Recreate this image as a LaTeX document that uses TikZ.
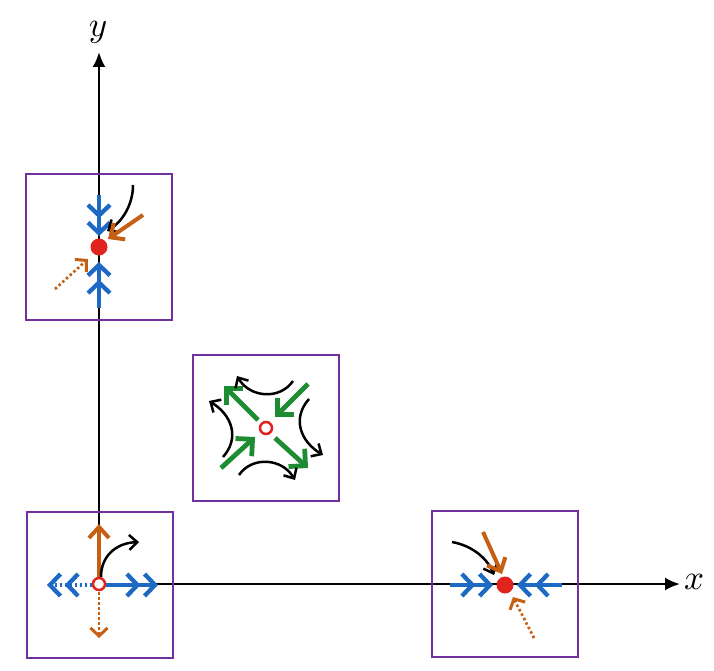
\documentclass[tikz,border=0pt]{standalone}
\usetikzlibrary{arrows.meta}
\definecolor{boxpurple}{RGB}{112,48,160}
\definecolor{flowblue}{RGB}{30,105,195}
\definecolor{floworange}{RGB}{197,95,20}
\definecolor{flowgreen}{RGB}{30,140,50}
\definecolor{ptred}{RGB}{225,35,30}
\begin{document}
\begin{tikzpicture}[x=1pt,y=-1pt,
  axisline/.style={line width=2.3pt,-{Latex[length=15pt,width=13pt]}},
  framebox/.style={draw=boxpurple,line width=2.8pt,minimum size=146pt,inner sep=0pt},
  bluedbl/.style={flowblue,line width=4.3pt,-{Straight Barb[length=10.5pt,width=22pt,sep=2pt]Straight Barb[length=10.5pt,width=22pt]}},
  bluedbldot/.style={bluedbl,dash pattern=on 2.5pt off 2.5pt},
  orangearr/.style={floworange,line width=4pt,-{Straight Barb[length=11pt,width=20pt]}},
  orangedot/.style={floworange,line width=2.7pt,dash pattern=on 2.5pt off 2.5pt,-{Straight Barb[length=8pt,width=17pt,line width=3pt]}},
  greenarr/.style={flowgreen,line width=4.8pt,-{Straight Barb[length=12pt,width=24pt]}},
  blackarc/.style={black,line width=2.5pt,-{Straight Barb[length=8pt,width=15pt]}},
  fixedpt/.style={circle,fill=ptred,minimum size=17pt,inner sep=0pt},
  openpt/.style={circle,draw=ptred,fill=white,line width=2.5pt,minimum size=12pt,inner sep=0pt},
  axlabel/.style={inner sep=0pt}
]
\useasboundingbox (0,0) rectangle (714,671);
\fill[white] (0,0) rectangle (714,671);

% axes
\coordinate (O) at (99,584);
\coordinate (xend) at (680,584);
\coordinate (yend) at (99,52);
\draw[axisline] (O) -- (xend);
\draw[axisline] (O) -- (yend);
\node[axlabel] (xlab) at (694,582) {\scalebox{3.5}{$x$}};
\node[axlabel] (ylab) at (98,32) {\scalebox{3.5}{$y$}};

% frames
\node[framebox] (f1) at (99,247) {};
\node[framebox] (f2) at (266,428) {};
\node[framebox] (f3) at (100,585) {};
\node[framebox] (f4) at (505,584) {};

% box 1 : point on y axis
\coordinate (a1) at (99,195);
\coordinate (a2) at (99,236);
\coordinate (a3) at (99,308);
\coordinate (a4) at (99,262);
\coordinate (a5) at (143,215);
\coordinate (a6) at (108,239);
\coordinate (a7) at (133,185);
\coordinate (a8) at (107,231);
\coordinate (a9) at (55,289);
\coordinate (a10) at (88,259);
\draw[bluedbl] (a1) -- (a2);
\draw[bluedbl] (a3) -- (a4);
\draw[blackarc] (a7) .. controls (133,205) and (122,222) .. (a8);
\draw[orangearr] (a5) -- (a6);
\draw[orangedot] (a9) -- (a10);
\node[fixedpt] (p1) at (99,247) {};

% box 3 : origin
\coordinate (c1) at (99,577);
\coordinate (c2) at (99,524);
\coordinate (c3) at (101,577);
\coordinate (c4) at (139,542);
\coordinate (c5) at (106,585);
\coordinate (c6) at (158,585);
\coordinate (c7) at (92,585);
\coordinate (c8) at (47,585);
\coordinate (c9) at (99,592);
\coordinate (c10) at (99,638);
\draw[orangearr] (c1) -- (c2);
\draw[blackarc] (c3) .. controls (101,556) and (116,543) .. (c4);
\draw[bluedbl] (c5) -- (c6);
\draw[bluedbldot] (c7) -- (c8);
\draw[orangedot] (c9) -- (c10);
\node[openpt] (p3) at (99,584) {};

% box 4 : point on x axis
\coordinate (d1) at (450,585);
\coordinate (d2) at (493,585);
\coordinate (d3) at (562,585);
\coordinate (d4) at (517,585);
\coordinate (d5) at (452,542);
\coordinate (d6) at (494,575);
\coordinate (d7) at (483,532);
\coordinate (d8) at (502,574);
\coordinate (d9) at (534,638);
\coordinate (d10) at (513,597);
\draw[bluedbl] (d1) -- (d2);
\draw[bluedbl] (d3) -- (d4);
\draw[blackarc] (d5) .. controls (474,546) and (488,560) .. (d6);
\draw[orangearr] (d7) -- (d8);
\draw[orangedot] (d9) -- (d10);
\node[fixedpt] (p4) at (505,585) {};

% box 2 : saddle
\coordinate (g1) at (258,420);
\coordinate (g2) at (224,386);
\coordinate (g3) at (308,384);
\coordinate (g4) at (275,417);
\coordinate (g5) at (221,468);
\coordinate (g6) at (255,437);
\coordinate (g7) at (275,438);
\coordinate (g8) at (308,468);
\draw[greenarr] (g1) -- (g2);
\draw[greenarr] (g3) -- (g4);
\draw[greenarr] (g5) -- (g6);
\draw[greenarr] (g7) -- (g8);
\coordinate (k1) at (293,381);
\coordinate (k2) at (237,376);
\coordinate (k3) at (223,457);
\coordinate (k4) at (209,401);
\coordinate (k5) at (309,399);
\coordinate (k6) at (323,455);
\coordinate (k7) at (239,475);
\coordinate (k8) at (295,480);
\draw[blackarc] (k1) .. controls (280,400) and (250,398) .. (k2);
\draw[blackarc] (k3) .. controls (240,438) and (232,415) .. (k4);
\draw[blackarc] (k5) .. controls (292,418) and (300,441) .. (k6);
\draw[blackarc] (k7) .. controls (252,456) and (282,458) .. (k8);
\node[openpt] (p2) at (266,428) {};
\end{tikzpicture}
\end{document}
